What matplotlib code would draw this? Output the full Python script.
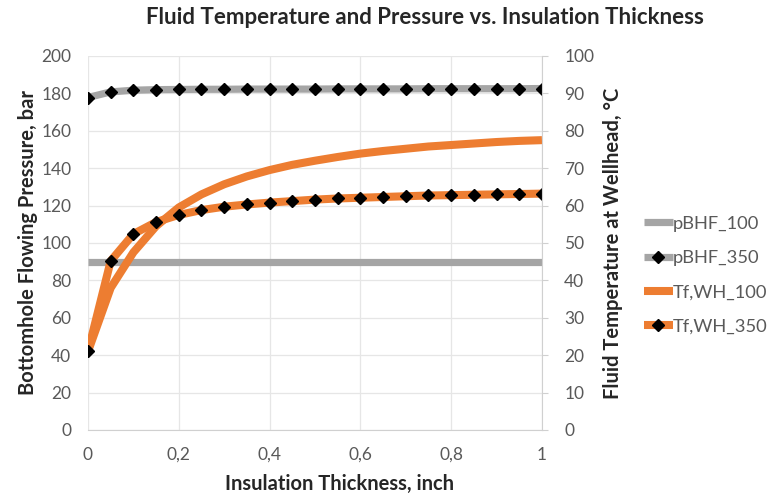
import matplotlib
matplotlib.use("Agg")
import matplotlib.pyplot as plt

# Данні
thickness = [0, 0.05, 0.1, 0.15, 0.2, 0.25, 0.3, 0.35, 0.4, 0.45, 0.5,
             0.55, 0.6, 0.65, 0.7, 0.75, 0.8, 0.85, 0.9, 0.95, 1.0]
pbhf_100 = [90.0] * 21
pbhf_350 = [177.8, 180.8, 181.7, 182.0, 182.1, 182.2, 182.2, 182.3, 182.3, 182.3, 182.3,
            182.4, 182.4, 182.4, 182.4, 182.5, 182.5, 182.5, 182.5, 182.5, 182.6]
tf_wh_100 = [21.0, 38.0, 47.5, 54.5, 59.5, 63.0, 65.7, 67.8, 69.5, 70.9, 72.0,
             73.0, 73.9, 74.6, 75.2, 75.8, 76.2, 76.6, 77.0, 77.3, 77.5]
tf_wh_350 = [21.0, 45.2, 52.4, 55.6, 57.5, 58.8, 59.7, 60.3, 60.8, 61.2, 61.6,
             61.9, 62.1, 62.3, 62.5, 62.7, 62.8, 62.9, 63.0, 63.1, 63.2]

x_ticks = [0, 0.2, 0.4, 0.6, 0.8, 1.0]
x_tick_labels = ["0", "0,2", "0,4", "0,6", "0,8", "1"]

GREY = "#a5a5a5"
ORANGE = "#ed7d31"
TEXT = "#595959"
GRID = "#e6e6e6"
FONT = "Lato"

plt.rcParams["font.family"] = FONT

fig = plt.figure(figsize=(7.76, 4.96), dpi=100)
ax = fig.add_axes([0.1134, 0.1331, 0.585, 0.754])
ax2 = ax.twinx()

ax.plot(thickness, pbhf_100, color=GREY, lw=5.2, label="pBHF_100", solid_capstyle="butt")
ax.plot(thickness, pbhf_350, color=GREY, lw=5.2, marker="D", ms=6.5,
        mfc="black", mec="black", label="pBHF_350", solid_capstyle="butt")
ax2.plot(thickness, tf_wh_100, color=ORANGE, lw=5.8, label="Tf,WH_100", solid_capstyle="butt")
ax2.plot(thickness, tf_wh_350, color=ORANGE, lw=5.8, marker="D", ms=6.5,
         mfc="black", mec="black", label="Tf,WH_350", solid_capstyle="butt")

ax.set_xlim(0, 1)
ax.set_ylim(0, 200)
ax2.set_ylim(0, 100)
ax.set_yticks(range(0, 201, 20))
ax2.set_yticks(range(0, 101, 10))
ax.set_xticks(x_ticks)
ax.set_xticklabels(x_tick_labels)

ax.grid(True, color=GRID, lw=0.9)
ax.set_axisbelow(True)

for a in (ax, ax2):
    for side in ("top", "left"):
        a.spines[side].set_visible(False)
    a.spines["bottom"].set_color("#d0d0d0")
    a.spines["right"].set_color("#d0d0d0")
    a.tick_params(labelsize=12.5, labelcolor=TEXT)
ax.spines["right"].set_visible(False)
ax2.spines["bottom"].set_visible(False)
ax.tick_params(axis="y", length=0, pad=12)
ax.tick_params(axis="x", length=0, pad=12)
ax2.tick_params(axis="y", length=4, color="#d0d0d0", pad=12)

ax.set_xlabel("Insulation Thickness, inch", fontsize=14.5, fontweight="bold",
              color="#262626", labelpad=8)
ax.xaxis.label.set_x(0.554)
ax.set_ylabel("Bottomhole Flowing Pressure, bar", fontsize=14.5, fontweight="bold",
              color="#262626", labelpad=2)
ax2.set_ylabel("Fluid Temperature at Wellhead, °C", fontsize=14.5, fontweight="bold",
               color="#262626", labelpad=6)
fig.suptitle("Fluid Temperature and Pressure vs. Insulation Thickness", fontsize=16,
             fontweight="bold", color="#262626", x=0.548, y=0.985)

handles = ax.get_lines() + ax2.get_lines()
fig.legend(handles, [h.get_label() for h in handles], loc="upper left",
           bbox_to_anchor=(0.808, 0.598), frameon=False, fontsize=13.2,
           handlelength=1.6, handletextpad=0.0, labelspacing=1.0,
           labelcolor=TEXT)

fig.savefig("out.png", dpi=100)
